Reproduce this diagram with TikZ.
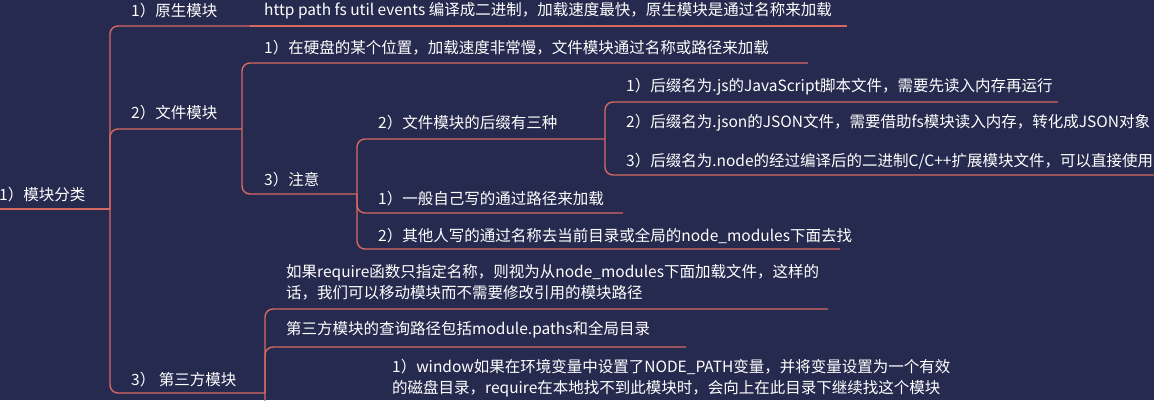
\documentclass[tikz,border=0pt]{standalone}
\usepackage{fontspec}
\setmainfont{Noto Sans CJK SC}
\definecolor{bgc}{RGB}{38,42,78}
\definecolor{linec}{RGB}{214,104,98}
\begin{document}
\begin{tikzpicture}[x=1pt,y=-1pt,
  txt/.style={anchor=west,inner sep=0pt,text=white,font=\fontsize{15.5}{21}\selectfont,align=left},
  conn/.style={draw=linec,line width=1.4pt,rounded corners=8pt}]
\fill[bgc] (0,0) rectangle (1154,400);
\useasboundingbox (0,0) rectangle (1154,400);
\clip (0,0) rectangle (1154,400);
% root
\node[txt] (root) at (-1,195) {1）模块分类};
\coordinate (r0) at (0,209);
\coordinate (j0) at (110,209);
\draw[conn] (r0) -- (j0);
% 原生模块
\node[txt] (a) at (131,11) {1）原生模块};
\coordinate (ja) at (250,26);
\node[txt] (a1) at (264,11) {http path fs util events 编译成二进制，加载速度最快，原生模块是通过名称来加载};
\coordinate (ea1) at (847,26);
\draw[conn] (j0) |- (ja);
\draw[conn] (ja) -- (ea1);
% 文件模块
\node[txt] (b) at (131,113) {2）文件模块};
\coordinate (jb) at (242,129);
\draw[conn] (j0) |- (jb);
\node[txt] (b1) at (264,48) {1）在硬盘的某个位置，加载速度非常慢，文件模块通过名称或路径来加载};
\coordinate (eb1) at (808,63);
\draw[conn] (jb) |- (eb1);
\node[txt] (b2) at (264,180) {3）注意};
\coordinate (jb2) at (357,194);
\draw[conn] (jb) |- (jb2);
\node[txt] (b2a) at (378,123) {2）文件模块的后缀有三种};
\coordinate (jb2a) at (605,139);
\draw[conn] (jb2) |- (jb2a);
\node[txt] (s1) at (626,87) {1）后缀名为.js的JavaScript脚本文件，需要先读入内存再运行};
\coordinate (es1) at (1058,102);
\draw[conn] (jb2a) |- (es1);
\node[txt] (s2) at (626,123) {2）后缀名为.json的JSON文件，需要借助fs模块读入内存，转化成JSON对象};
\node[txt] (s3) at (626,161) {3）后缀名为.node的经过编译后的二进制C/C++扩展模块文件，可以直接使用};
\coordinate (es3) at (1170,175);
\draw[conn] (jb2a) |- (es3);
\node[txt] (b2b) at (378,199) {1）一般自己写的通过路径来加载};
\coordinate (eb2b) at (623,213);
\draw[conn] (jb2) |- (eb2b);
\node[txt] (b2c) at (378,236) {2）其他人写的通过名称去当前目录或全局的node\_modules下面去找};
\coordinate (eb2c) at (840,249);
\draw[conn] (jb2) |- (eb2c);
% 第三方模块
\node[txt] (c) at (131,380) {3） 第三方模块};
\coordinate (jc) at (265,393);
\draw[conn] (j0) |- (jc);
\node[txt] (c1) at (286,282.5) {如果require函数只指定名称，则视为从node\_modules下面加载文件，这样的\\话，我们可以移动模块而不需要修改引用的模块路径};
\coordinate (ec1) at (828,309);
\draw[conn] (jc) |- (ec1);
\node[txt] (c2) at (286,330) {第三方模块的查询路径包括module.paths和全局目录};
\coordinate (ec2) at (686,347);
\draw[conn] (jc) |- (ec2);
\node[txt] (c3) at (392,378) {1）window如果在环境变量中设置了NODE\_PATH变量，并将变量设置为一个有效\\的磁盘目录，require在本地找不到此模块时，会向上在此目录下继续找这个模块};
\coordinate (ec3) at (380,430);
\draw[conn] (jc) |- (ec3);
\end{tikzpicture}
\end{document}
